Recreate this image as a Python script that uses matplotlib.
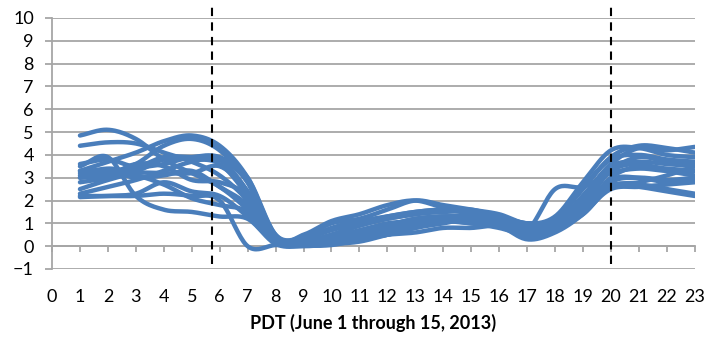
import numpy as np
import matplotlib
matplotlib.use('Agg')
import matplotlib.pyplot as plt

# horas (PDT) e um perfil por dia, 1 a 15 de junho de 2013
hours = list(range(1, 24))

day01 = [4.85, 5.1, 4.7, 3.8, 3.2, 2.6, 1.6, 0.3, 0.2, 0.5, 0.9, 1.2, 1.4, 1.5, 1.5, 1.2, 0.8, 1.0, 2.2, 3.6, 4.3, 4.2, 4.35]
day02 = [4.4, 4.55, 4.5, 4.1, 3.7, 3.1, 2.0, 0.4, 0.3, 0.8, 1.1, 1.3, 1.5, 1.6, 1.5, 1.3, 1.0, 1.2, 2.5, 3.9, 4.4, 4.3, 4.1]
day03 = [3.3, 3.7, 4.1, 4.6, 4.85, 4.4, 3.0, 0.5, 0.4, 1.0, 1.2, 1.6, 2.0, 1.8, 1.6, 1.4, 1.0, 1.3, 2.8, 4.2, 4.3, 4.0, 3.9]
day04 = [3.0, 3.2, 3.6, 4.4, 4.7, 4.2, 2.8, 0.3, 0.5, 1.1, 1.4, 1.8, 2.0, 1.7, 1.5, 1.1, 0.9, 1.1, 2.6, 3.8, 4.0, 3.8, 3.7]
day05 = [3.6, 3.8, 3.5, 3.9, 3.9, 3.8, 2.4, 0.2, 0.3, 0.7, 1.0, 1.3, 1.5, 1.6, 1.6, 1.3, 1.0, 1.0, 2.2, 3.5, 3.7, 3.6, 3.5]
day06 = [3.5, 3.9, 2.2, 1.6, 1.5, 1.3, 1.2, 0.1, 0.0, 0.1, 0.3, 0.5, 0.8, 1.0, 1.2, 1.0, 0.8, 0.8, 1.6, 3.0, 3.5, 3.4, 3.3]
day07 = [3.2, 3.4, 3.3, 3.8, 3.8, 3.6, 2.2, 0.2, 0.1, 0.2, 0.5, 0.9, 1.2, 1.3, 1.3, 1.0, 0.6, 0.9, 2.0, 3.3, 3.6, 3.3, 3.1]
day08 = [2.2, 2.2, 2.2, 2.3, 2.2, 2.0, 0.0, 0.05, 0.1, 0.3, 0.6, 0.8, 1.0, 1.1, 1.0, 0.9, 0.4, 0.7, 1.5, 2.8, 3.0, 2.9, 3.0]
day09 = [2.3, 2.6, 2.9, 3.3, 3.7, 3.8, 2.8, 0.3, 0.05, 0.05, 0.3, 0.6, 0.9, 1.2, 1.1, 0.9, 0.3, 0.6, 1.4, 2.6, 2.7, 2.5, 2.3]
day10 = [2.15, 2.2, 2.3, 2.8, 2.4, 2.2, 1.3, 0.2, 0.2, 0.5, 0.9, 1.2, 1.4, 1.6, 1.4, 1.1, 0.8, 1.1, 2.0, 2.7, 2.6, 2.4, 2.2]
day11 = [2.5, 2.9, 3.2, 3.2, 3.2, 3.5, 2.4, 0.4, 0.2, 0.3, 0.6, 0.9, 1.2, 1.3, 1.2, 1.0, 0.7, 0.8, 1.6, 2.9, 3.0, 2.8, 2.9]
day12 = [2.8, 3.0, 3.4, 3.6, 3.9, 3.9, 3.0, 0.5, 0.1, 0.2, 0.4, 0.7, 1.0, 1.3, 1.1, 0.9, 0.6, 0.8, 1.5, 2.5, 2.6, 2.7, 2.8]
day13 = [3.3, 3.3, 3.0, 3.1, 3.3, 2.6, 1.8, 0.3, 0.2, 0.4, 0.7, 1.0, 1.1, 1.2, 1.1, 1.0, 0.7, 2.5, 2.6, 3.2, 3.4, 3.3, 3.3]
day14 = [3.0, 3.1, 3.6, 3.5, 2.9, 2.8, 2.2, 0.4, 0.1, 0.1, 0.2, 0.5, 0.8, 1.1, 1.0, 0.8, 0.5, 0.7, 1.8, 3.3, 3.9, 3.7, 3.6]
day15 = [3.1, 3.2, 3.1, 2.7, 2.1, 1.8, 1.5, 0.2, 0.05, 0.1, 0.3, 0.5, 0.6, 0.8, 0.8, 0.9, 0.6, 0.8, 1.4, 2.6, 2.8, 3.1, 3.5]

days = [day01, day02, day03, day04, day05, day06, day07, day08,
        day09, day10, day11, day12, day13, day14, day15]

# marcos verticais (nascer / por do sol)
markers_x = [5.72, 20]


def suaviza(x, y, n=20):
    # curva suavizada tipo Excel (Catmull-Rom passando pelos pontos)
    x = np.asarray(x, float)
    y = np.asarray(y, float)
    px = np.concatenate([[2 * x[0] - x[1]], x, [2 * x[-1] - x[-2]]])
    py = np.concatenate([[2 * y[0] - y[1]], y, [2 * y[-1] - y[-2]]])
    xs, ys = [], []
    t = np.linspace(0, 1, n, endpoint=False)
    for i in range(1, len(px) - 2):
        for p, out in ((px, xs), (py, ys)):
            p0, p1, p2, p3 = p[i - 1], p[i], p[i + 1], p[i + 2]
            out.extend(0.5 * (2 * p1 + (-p0 + p2) * t
                              + (2 * p0 - 5 * p1 + 4 * p2 - p3) * t ** 2
                              + (-p0 + 3 * p1 - 3 * p2 + p3) * t ** 3))
    xs.append(x[-1])
    ys.append(y[-1])
    return np.array(xs), np.array(ys)


plt.rcParams['font.family'] = ['Lato', 'DejaVu Sans']

fig = plt.figure(figsize=(7.06, 3.39), dpi=100)
ax = fig.add_axes([0.0737, 0.2065, 0.9103, 0.7405])

grid_c = '#A6A6A6'
for v in range(-1, 11):
    ax.axhline(v, color=grid_c, lw=1.3, zorder=1)

for d in days:
    xs, ys = suaviza(hours, d)
    ax.plot(xs, ys, color='#4A7EBB', lw=3.2, solid_capstyle='round', zorder=3)

for mx in markers_x:
    ax.plot([mx, mx], [-0.8, 10.55], color='black', lw=1.5, dashes=(4, 3),
            clip_on=False, zorder=4)

ax.set_xlim(0, 23)
ax.set_ylim(-1, 10)
ax.set_xticks(range(0, 24))
ax.set_yticks(range(-1, 11))

for s in ['top', 'right']:
    ax.spines[s].set_visible(False)
ax.spines['left'].set_color(grid_c)
ax.spines['left'].set_linewidth(1.3)
ax.spines['bottom'].set_position(('data', 0))
ax.spines['bottom'].set_color(grid_c)
ax.spines['bottom'].set_linewidth(1.3)

ax.tick_params(axis='y', length=5, width=1.3, color=grid_c, pad=8, labelsize=13)
ax.tick_params(axis='x', length=4, width=1.3, color=grid_c, pad=27, labelsize=13)

ax.set_xlabel('PDT (June 1 through 15, 2013)', fontsize=13, fontweight='bold', labelpad=6)

fig.savefig('out.png', dpi=100)
